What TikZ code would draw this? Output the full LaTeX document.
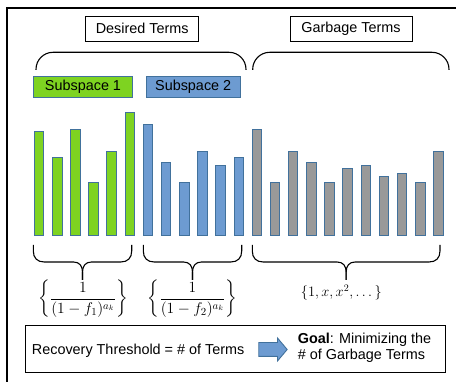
\documentclass[tikz,border=0pt]{standalone}
\usepackage{amsmath}
\usepackage[no-math]{fontspec}
\setmainfont{Liberation Sans}
\usetikzlibrary{shapes.arrows}

\definecolor{barg}{HTML}{7ED321}
\definecolor{barb}{HTML}{6D9BD1}
\definecolor{bark}{HTML}{999999}
\definecolor{edgeblue}{HTML}{41719C}

\tikzset{
  termbox/.style={draw=black, line width=0.9, inner sep=0, align=center},
  subbox/.style={draw=edgeblue, line width=0.9, inner sep=0, minimum height=20.6},
  barshape/.style={draw=edgeblue, line width=0.9},
  bracketline/.style={draw=black, line width=1.1, rounded corners=17},
  braceline/.style={draw=black, line width=1.1},
  mathlabel/.style={inner sep=0},
  fraclabel/.style={inner sep=0, transform shape, scale=1.08},
}

% curly brace opening downwards: left end, right end, top y
\newcommand\downbrace[3]{%
  \pgfmathsetmacro\bxm{(#1+#2)/2}%
  \draw[braceline] (#1,#3) -- (#1,#3+6)
    .. controls (#1,#3+13) and (#1+4,#3+17) .. (#1+11,#3+17)
    -- (\bxm-9,#3+17)
    .. controls (\bxm-3,#3+17) and (\bxm,#3+21) .. (\bxm,#3+27)
    -- (\bxm,#3+35);
  \draw[braceline] (\bxm,#3+35) -- (\bxm,#3+27)
    .. controls (\bxm,#3+21) and (\bxm+3,#3+17) .. (\bxm+9,#3+17)
    -- (#2-11,#3+17)
    .. controls (#2-4,#3+17) and (#2,#3+13) .. (#2,#3+6)
    -- (#2,#3);
}

\begin{document}
\begin{tikzpicture}[x=1pt, y=-1pt, font=\fontsize{14.4}{16}\selectfont]
\useasboundingbox (0,0) rectangle (456,382);

% frame edges
\draw[line width=1.2] (7,382) -- (7,8) -- (456,8);

% group titles
\node[termbox, minimum width=113, minimum height=25.3] (desired) at (142.2,28.7) {Desired Terms};
\node[termbox, minimum width=122, minimum height=24.5] (garbage) at (351,29.1) {Garbage Terms};

% brackets below the titles
\draw[bracketline] (36,70) -- (36,52.3) -- (246,52.3) -- (246,70);
\draw[bracketline] (252.7,70) -- (252.7,52.3) -- (449,52.3) -- (449,70);

% subspace labels
\node[subbox, fill=barg, minimum width=98.6] (sub1) at (83,87) {Subspace 1};
\node[subbox, fill=barb, minimum width=93.7] (sub2) at (193.2,87) {Subspace 2};

% bars
\foreach \t/\c [count=\i from 0] in {131/barg,157.3/barg,129.3/barg,182/barg,151.7/barg,112/barg,
    124/barb,162.7/barb,182/barb,151.7/barb,165.3/barb,157.3/barb,
    129.3/bark,182/bark,151.7/bark,162.7/bark,182/bark,168.3/bark,165.3/bark,176.3/bark,173.7/bark,182/bark,151.7/bark}
  \draw[barshape, fill=\c] (34.3+18.15*\i,235) rectangle (43.8+18.15*\i,\t);

% braces under the bars
\downbrace{33.3}{131.7}{245}
\downbrace{143.3}{241.7}{245}
\downbrace{252.3}{440}{245}

% term sets
\node[fraclabel] (set1) at (83,299) {$\left\{\dfrac{1}{(1-f_1)^{a_k}}\right\}$};
\node[fraclabel] (set2) at (192.5,299) {$\left\{\dfrac{1}{(1-f_2)^{a_k}}\right\}$};
\node[mathlabel] (set3) at (341.3,292.5) {$\{1,x,x^2,\dots\}$};

% bottom statement
\draw[line width=0.9] (25,325.7) rectangle (445.7,372.7);
\node[inner sep=0, anchor=base west] (recovery) at (31.7,354.3) {Recovery Threshold = \# of Terms};
\node[single arrow, draw=edgeblue, fill=barb, line width=0.9, inner sep=6.5, minimum width=22,
      minimum height=28.4, single arrow head extend=4.5, single arrow tip angle=100,
      anchor=west] (arrow) at (258.3,349.5) {};
\node[inner sep=0, anchor=north west, align=left] (goal) at (297.7,333) {\textbf{Goal}: Minimizing the\\\# of Garbage Terms};
\end{tikzpicture}
\end{document}
